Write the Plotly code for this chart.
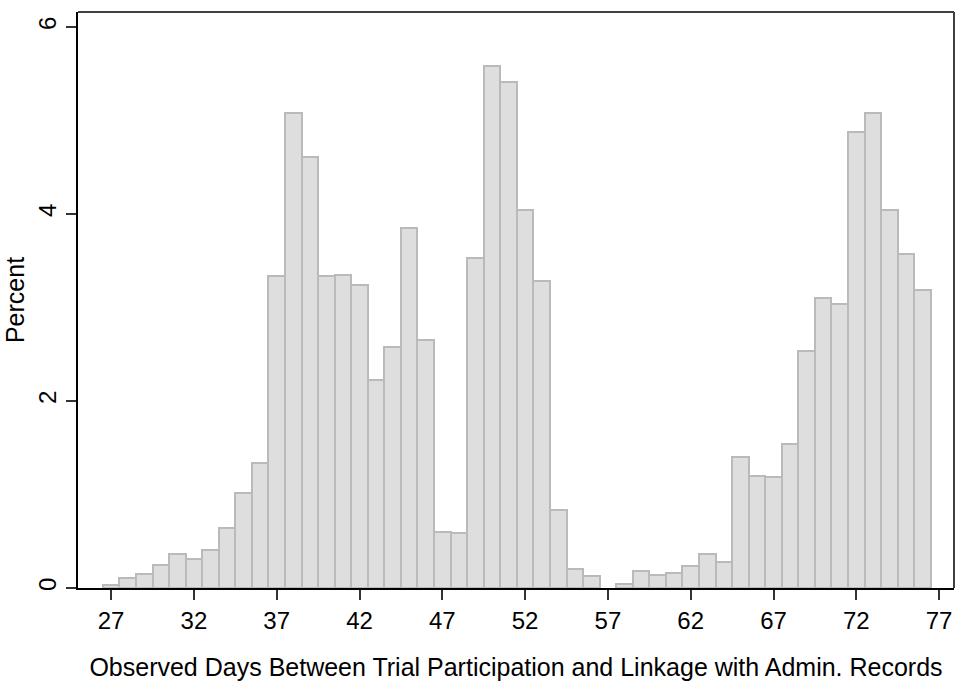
import plotly.graph_objects as go

days = [27, 28, 29, 30, 31, 32, 33, 34, 35, 36,
        37, 38, 39, 40, 41, 42, 43, 44, 45, 46,
        47, 48, 49, 50, 51, 52, 53, 54, 55, 56,
        58, 59, 60, 61, 62, 63, 64, 65, 66, 67,
        68, 69, 70, 71, 72, 73, 74, 75, 76]
percent = [0.03, 0.11, 0.15, 0.25, 0.36, 0.31, 0.41, 0.64, 1.02, 1.34,
           3.34, 5.08, 4.61, 3.34, 3.35, 3.24, 2.22, 2.58, 3.85, 2.65,
           0.60, 0.59, 3.53, 5.58, 5.41, 4.04, 3.28, 0.83, 0.20, 0.13,
           0.04, 0.18, 0.14, 0.16, 0.24, 0.36, 0.28, 1.40, 1.20, 1.19,
           1.54, 2.53, 3.10, 3.04, 4.88, 5.08, 4.04, 3.57, 3.19]
x_ticks = [27, 32, 37, 42, 47, 52, 57, 62, 67, 72, 77]
y_ticks = [0, 2, 4, 6]
x_title = "Observed Days Between Trial Participation and Linkage with Admin. Records"
y_title = "Percent"

FONT = "Liberation Sans, Arial, sans-serif"

fig = go.Figure()
fig.add_trace(go.Bar(
    x=days, y=percent, width=1,
    marker=dict(color="rgb(222,222,222)", line=dict(color="rgb(186,186,186)", width=2)),
    hoverinfo="x+y",
))

fig.update_layout(
    width=958, height=683,
    margin=dict(l=78, r=4, t=12, b=95),
    paper_bgcolor="white", plot_bgcolor="white",
    font=dict(family=FONT, size=24, color="black"),
    showlegend=False, bargap=0,
    xaxis=dict(
        range=[25.0, 77.9], tickmode="array", tickvals=x_ticks,
        ticks="outside", ticklen=10, tickwidth=1.5, tickcolor="#333",
        showline=True, linecolor="black", linewidth=2,
        showgrid=False, zeroline=False,
        tickfont=dict(size=24),
        title=dict(text=x_title, font=dict(size=25), standoff=26),
    ),
    yaxis=dict(
        range=[0, 6.16], tickmode="array", tickvals=y_ticks,
        ticks="outside", ticklen=10, tickwidth=1.5, tickcolor="#333",
        tickangle=-90,
        showline=True, linecolor="black", linewidth=2,
        showgrid=False, zeroline=False,
        tickfont=dict(size=24),
        title=dict(text=y_title, font=dict(size=25), standoff=3),
    ),
    shapes=[
        dict(type="line", xref="x domain", yref="y domain", x0=0, x1=1, y0=1, y1=1,
             line=dict(color="#404040", width=2)),
        dict(type="line", xref="x domain", yref="y domain", x0=1, x1=1, y0=0, y1=1,
             line=dict(color="#404040", width=2)),
    ],
)

fig.write_html("out.html")
